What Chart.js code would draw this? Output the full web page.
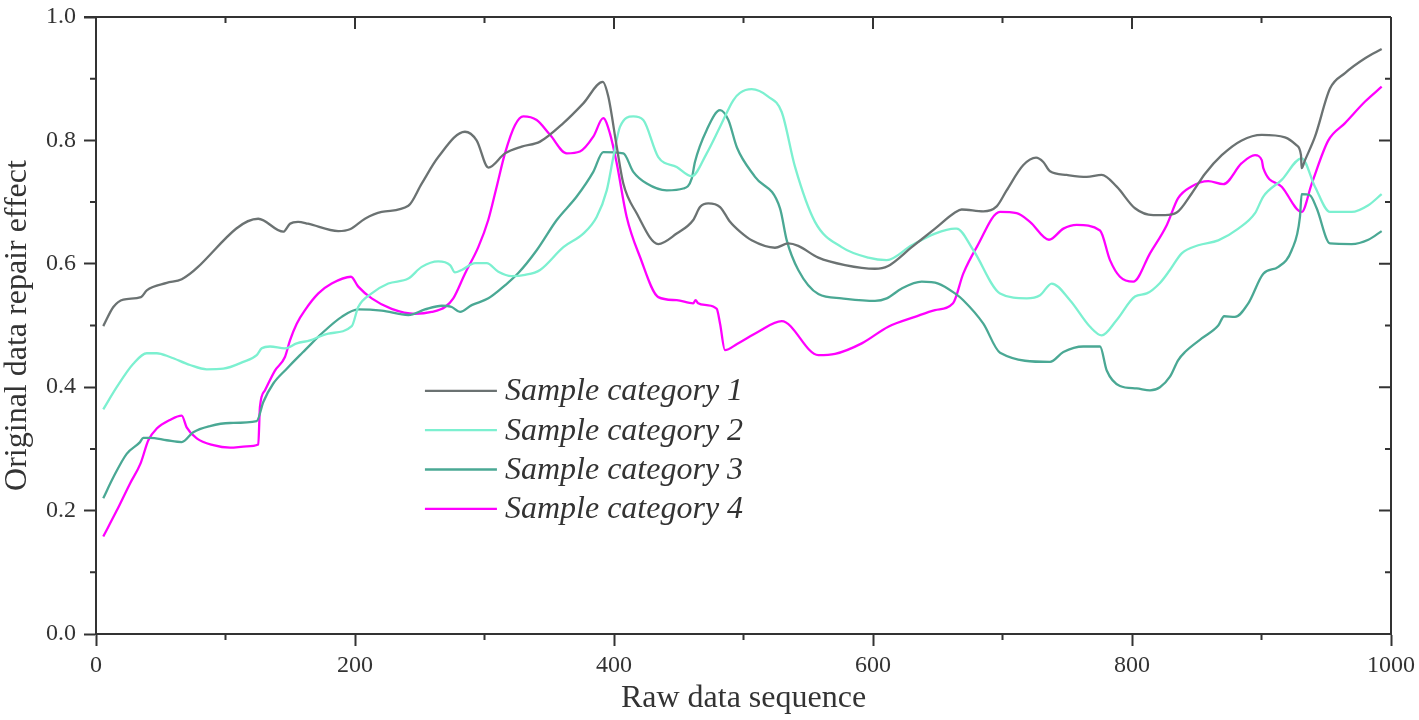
<!DOCTYPE html>
<html>
<head>
<meta charset="utf-8">
<script src="https://cdn.jsdelivr.net/npm/chart.js@4.4.1/dist/chart.umd.min.js"></script>
<style>
  html, body { margin: 0; padding: 0; background: #ffffff; }
  #c { display: block; }
</style>
</head>
<body>
<canvas id="c" width="1419" height="720"></canvas>
<script>
// ---------------- DATA ----------------
const seriesNames = ['Sample category 1', 'Sample category 2', 'Sample category 3', 'Sample category 4'];

const xTicks = [0, 200, 400, 600, 800, 1000];
const xMinorTicks = [100, 300, 500, 700, 900];
const yTicks = [0.0, 0.2, 0.4, 0.6, 0.8, 1.0];
const yMinorTicks = [0.1, 0.3, 0.5, 0.7, 0.9];

const s1x = [5.6, 13.4, 21.1, 34.7, 39.2, 54.6, 66.2, 125.3, 144.6, 149.8, 156, 163.7, 187.1, 196.1, 207.7, 220.6, 241.2, 251.5, 264.3, 284.9, 293.9, 303, 315.8, 328.7, 342.9, 360.9, 376.3, 391.3, 395.6, 402.1, 407.2, 417.5, 434.2, 448.4, 461.2, 466.4, 472.8, 481.9, 489.6, 497.3, 506.3, 524.3, 534.6, 542.3, 557.8, 578.4, 601.5, 611.3, 629.9, 647.9, 663.3, 668.5, 685.2, 695.5, 703.2, 716.1, 725.9, 731.5, 736.7, 749.6, 765, 776.6, 788.2, 802.3, 816.4, 825.5, 834.5, 846.1, 856.4, 869.3, 884.7, 900.2, 918.1, 927.2, 930.5, 931, 933.6, 941.3, 952.9, 964.5, 980, 992.8];
const s1y = [0.499, 0.530, 0.542, 0.546, 0.557, 0.569, 0.575, 0.673, 0.652, 0.665, 0.668, 0.665, 0.653, 0.656, 0.673, 0.684, 0.694, 0.730, 0.773, 0.814, 0.800, 0.756, 0.779, 0.790, 0.798, 0.828, 0.860, 0.895, 0.871, 0.790, 0.730, 0.682, 0.632, 0.649, 0.671, 0.692, 0.698, 0.692, 0.668, 0.652, 0.638, 0.626, 0.633, 0.629, 0.610, 0.598, 0.592, 0.596, 0.627, 0.657, 0.683, 0.688, 0.685, 0.693, 0.719, 0.760, 0.772, 0.765, 0.750, 0.744, 0.741, 0.744, 0.725, 0.690, 0.679, 0.679, 0.683, 0.714, 0.746, 0.776, 0.800, 0.809, 0.805, 0.792, 0.776, 0.755, 0.768, 0.806, 0.884, 0.909, 0.933, 0.948];

const s2x = [5.6, 16, 28.8, 39.2, 46.9, 57.1, 72.6, 85.5, 98.3, 113.7, 124.1, 128, 134.4, 145.9, 155, 165.3, 179.4, 197.5, 202.5, 212.9, 225.7, 241.2, 251.5, 264.3, 273.4, 277.2, 282.4, 292.7, 301.7, 310.7, 321, 331.3, 342.9, 360.9, 376.3, 386.6, 394.4, 399.5, 404.6, 414.9, 422.6, 434.2, 448.4, 460, 471.6, 481.9, 492.1, 497.3, 506.3, 519.1, 529.5, 539.8, 555.2, 575.8, 596.4, 610.6, 629.9, 647.9, 663.3, 664.6, 677.5, 698.1, 718.7, 729, 738, 752.1, 767.6, 776.6, 788.2, 802.3, 811.4, 821.6, 829.3, 838.4, 851.2, 866.6, 882.1, 895, 901.4, 915.6, 931, 941.3, 952.9, 969.6, 982.5, 992.8];
const s2y = [0.364, 0.400, 0.438, 0.455, 0.455, 0.449, 0.436, 0.429, 0.430, 0.441, 0.452, 0.463, 0.466, 0.463, 0.471, 0.476, 0.487, 0.499, 0.530, 0.552, 0.568, 0.576, 0.595, 0.604, 0.598, 0.586, 0.590, 0.601, 0.601, 0.587, 0.580, 0.582, 0.590, 0.627, 0.649, 0.676, 0.719, 0.773, 0.822, 0.839, 0.833, 0.773, 0.757, 0.742, 0.779, 0.822, 0.865, 0.877, 0.883, 0.871, 0.846, 0.757, 0.668, 0.627, 0.610, 0.606, 0.630, 0.649, 0.657, 0.657, 0.622, 0.552, 0.544, 0.549, 0.568, 0.541, 0.498, 0.484, 0.509, 0.547, 0.552, 0.569, 0.590, 0.617, 0.630, 0.638, 0.657, 0.682, 0.709, 0.736, 0.771, 0.725, 0.684, 0.684, 0.695, 0.713];

const s3x = [5.6, 13.4, 23.7, 34, 36.5, 41.7, 54.6, 66.2, 75.1, 88, 103.5, 124.1, 129.2, 136.9, 147.3, 157.5, 161.4, 174.3, 189.7, 202.5, 220.6, 241.2, 254, 267, 274.7, 281.1, 290.1, 303, 315.8, 326.1, 340.3, 355.8, 371.2, 384, 391.7, 407.2, 414.9, 425.3, 440.7, 453.5, 460, 462.5, 471.6, 481.9, 488.3, 495, 508.9, 528.2, 533.4, 542.3, 557.8, 575.8, 601.5, 610.6, 622.2, 637.6, 650.4, 663.3, 669.7, 685.2, 698.1, 736.7, 747, 762.4, 775.3, 780.5, 790.7, 803.6, 813.9, 821.6, 829.3, 835.7, 840.9, 853.8, 866.6, 871.2, 879.5, 889.8, 901.4, 913, 923.3, 929.7, 931, 937.4, 942.6, 952.9, 969.6, 982.5, 992.8];
const s3y = [0.220, 0.254, 0.292, 0.311, 0.318, 0.318, 0.314, 0.311, 0.327, 0.337, 0.342, 0.345, 0.376, 0.406, 0.430, 0.452, 0.460, 0.487, 0.514, 0.526, 0.524, 0.517, 0.526, 0.532, 0.530, 0.522, 0.533, 0.544, 0.565, 0.585, 0.622, 0.671, 0.709, 0.749, 0.781, 0.779, 0.749, 0.730, 0.719, 0.722, 0.738, 0.765, 0.817, 0.849, 0.833, 0.788, 0.741, 0.690, 0.638, 0.590, 0.551, 0.544, 0.540, 0.544, 0.560, 0.571, 0.568, 0.552, 0.541, 0.503, 0.456, 0.441, 0.457, 0.466, 0.466, 0.427, 0.402, 0.398, 0.395, 0.400, 0.417, 0.444, 0.457, 0.479, 0.500, 0.515, 0.514, 0.536, 0.584, 0.595, 0.622, 0.676, 0.713, 0.711, 0.690, 0.633, 0.632, 0.639, 0.653];

const s4x = [5.6, 16, 26.3, 34.5, 40.4, 46.9, 57.1, 66.2, 70, 77.8, 90.6, 103.5, 116.4, 125.3, 126.6, 130.5, 138.2, 145.9, 149.8, 155, 161.4, 171.7, 182, 196.9, 202.5, 212.9, 228.3, 246.3, 259.2, 269.5, 275.9, 284.9, 295.2, 302.9, 309.4, 315.8, 323.6, 330, 340.3, 350.6, 363.5, 373.7, 384, 391.7, 396.9, 402.1, 409.8, 420.1, 434.2, 448.4, 461.2, 463, 465, 471.6, 479.3, 481.9, 485.7, 495, 511.4, 529.5, 557.8, 570.7, 591.3, 611.8, 632.4, 647.9, 661.8, 669.7, 680.1, 698.1, 710.9, 721.2, 735.9, 747, 757.3, 775.3, 783, 790.7, 801, 813.9, 826.9, 835.5, 845.7, 858.9, 870.5, 884.7, 895, 900.2, 901.4, 915.6, 931, 938.8, 951.6, 964.5, 980, 992.8];
const s4y = [0.158, 0.200, 0.244, 0.277, 0.314, 0.333, 0.347, 0.354, 0.335, 0.317, 0.306, 0.302, 0.304, 0.307, 0.368, 0.395, 0.427, 0.449, 0.476, 0.503, 0.525, 0.552, 0.568, 0.579, 0.563, 0.544, 0.527, 0.519, 0.522, 0.530, 0.544, 0.584, 0.627, 0.671, 0.725, 0.779, 0.825, 0.839, 0.833, 0.809, 0.779, 0.782, 0.806, 0.836, 0.811, 0.763, 0.676, 0.611, 0.546, 0.541, 0.536, 0.541, 0.536, 0.533, 0.527, 0.503, 0.460, 0.470, 0.490, 0.507, 0.452, 0.454, 0.471, 0.498, 0.514, 0.525, 0.536, 0.584, 0.627, 0.684, 0.682, 0.668, 0.639, 0.657, 0.663, 0.654, 0.606, 0.579, 0.571, 0.617, 0.663, 0.706, 0.725, 0.734, 0.729, 0.763, 0.776, 0.768, 0.755, 0.725, 0.684, 0.730, 0.800, 0.828, 0.863, 0.887];

// ---------------- STYLE ----------------
const seriesColors = ['#6b7272', '#7cf0d0', '#4aa894', '#ff00ff'];
const AXIS = '#333333';
const TEXT = '#333333';
const SERIF = '"Liberation Serif", "Times New Roman", serif';

function pts(xs, ys) { return xs.map((v, i) => ({ x: v, y: ys[i] })); }
const allX = [s1x, s2x, s3x, s4x];
const allY = [s1y, s2y, s3y, s4y];

const datasets = seriesNames.map((name, i) => ({
  label: name,
  data: pts(allX[i], allY[i]),
  borderColor: seriesColors[i],
  backgroundColor: seriesColors[i],
  borderWidth: 2.3,
  pointRadius: 0,
  fill: false,
  cubicInterpolationMode: 'monotone'
}));

const framePlugin = {
  id: 'frameAndLegend',
  afterDraw(chart) {
    const { ctx, chartArea: a, scales } = chart;
    const x = scales.x, y = scales.y;
    ctx.save();
    ctx.strokeStyle = AXIS;
    ctx.lineWidth = 2;
    ctx.lineCap = 'butt';
    // frame (top and right)
    ctx.beginPath();
    ctx.moveTo(a.left - 12, a.top); ctx.lineTo(a.right, a.top);
    ctx.moveTo(a.right, a.top); ctx.lineTo(a.right, a.bottom);
    ctx.stroke();
    ctx.beginPath();
    // minor x ticks: bottom outward, top inward
    xMinorTicks.forEach(v => {
      const p = x.getPixelForValue(v);
      ctx.moveTo(p, a.bottom); ctx.lineTo(p, a.bottom + 6);
      ctx.moveTo(p, a.top); ctx.lineTo(p, a.top + 6);
    });
    // major x ticks on top (inward)
    xTicks.forEach(v => {
      const p = x.getPixelForValue(v);
      ctx.moveTo(p, a.top); ctx.lineTo(p, a.top + 12);
    });
    // minor y ticks: left outward, right inward
    yMinorTicks.forEach(v => {
      const p = y.getPixelForValue(v);
      ctx.moveTo(a.left, p); ctx.lineTo(a.left - 6, p);
      ctx.moveTo(a.right, p); ctx.lineTo(a.right - 6, p);
    });
    // major y ticks on right (inward)
    yTicks.forEach(v => {
      const p = y.getPixelForValue(v);
      ctx.moveTo(a.right, p); ctx.lineTo(a.right - 12, p);
    });
    ctx.stroke();

    // legend
    const w = a.right - a.left, h = a.bottom - a.top;
    const lx0 = a.left + 0.254 * w;
    const lx1 = lx0 + 72;
    const ly0 = a.top + 0.606 * h;
    const rowH = 39.3;
    ctx.font = 'italic 32px ' + SERIF;
    ctx.textBaseline = 'middle';
    ctx.textAlign = 'left';
    chart.data.datasets.forEach((ds, i) => {
      const yy = ly0 + i * rowH;
      ctx.strokeStyle = ds.borderColor;
      ctx.lineWidth = 2.3;
      ctx.beginPath();
      ctx.moveTo(lx0, yy); ctx.lineTo(lx1, yy);
      ctx.stroke();
      ctx.fillStyle = TEXT;
      ctx.fillText(ds.label, lx1 + 8, yy + 1);
    });
    ctx.restore();
  }
};

new Chart(document.getElementById('c'), {
  type: 'line',
  data: { datasets },
  options: {
    responsive: false,
    animation: false,
    layout: { padding: { top: 17, right: 28, left: 0, bottom: 0 } },
    plugins: { legend: { display: false }, tooltip: { enabled: false } },
    scales: {
      x: {
        type: 'linear',
        min: 0, max: 1000,
        afterBuildTicks: s => { s.ticks = xTicks.map(v => ({ value: v })); },
        afterFit: s => { s.height = 86; s.paddingLeft = 0; s.paddingRight = 0; },
        border: { display: true, color: AXIS, width: 2 },
        grid: { display: true, drawOnChartArea: false, drawTicks: true, tickLength: 12, tickWidth: 2, tickColor: AXIS },
        ticks: {
          color: TEXT, font: { family: SERIF, size: 24 }, padding: 5,
          maxRotation: 0, autoSkip: false,
          callback: v => String(v)
        },
        title: {
          display: true, text: 'Raw data sequence', color: TEXT,
          font: { family: SERIF, size: 32, lineHeight: 1 },
          padding: { top: 0, bottom: 5 }
        }
      },
      y: {
        type: 'linear',
        min: 0, max: 1,
        afterBuildTicks: s => { s.ticks = yTicks.map(v => ({ value: v })); },
        afterFit: s => { s.width = 96; s.paddingTop = 0; s.paddingBottom = 0; },
        border: { display: true, color: AXIS, width: 2 },
        grid: { display: true, drawOnChartArea: false, drawTicks: true, tickLength: 12, tickWidth: 2, tickColor: AXIS },
        ticks: {
          color: TEXT, font: { family: SERIF, size: 24 }, padding: 8,
          autoSkip: false,
          callback: v => Number(v).toFixed(1)
        },
        title: {
          display: true, text: 'Original data repair effect', color: TEXT,
          font: { family: SERIF, size: 32, lineHeight: 1 },
          padding: { top: 2, bottom: 0 }
        }
      }
    }
  },
  plugins: [framePlugin]
});
</script>
</body>
</html>
